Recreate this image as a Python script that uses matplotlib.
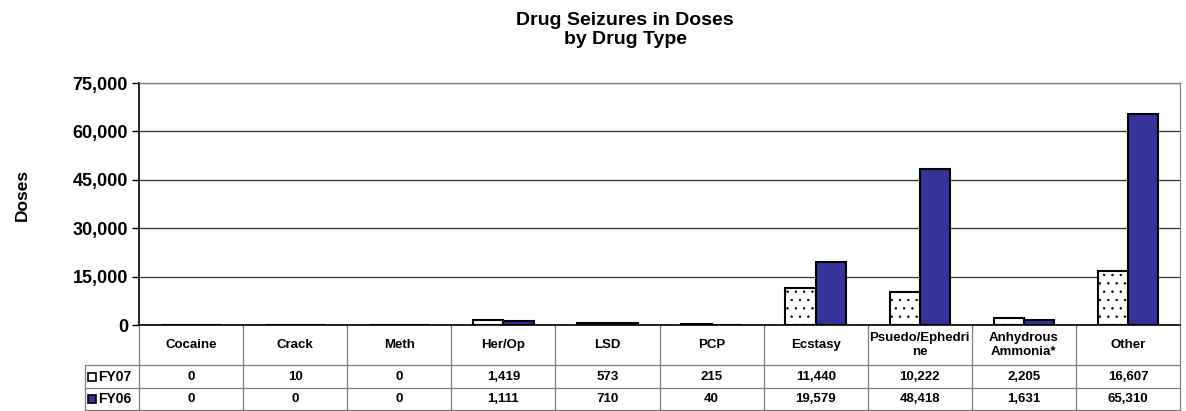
import numpy as np
import matplotlib
matplotlib.use('Agg')
import matplotlib.pyplot as plt
from matplotlib.patches import Rectangle
from matplotlib.transforms import blended_transform_factory
from matplotlib.ticker import FuncFormatter

plt.rcParams['font.family'] = ['Liberation Sans', 'DejaVu Sans']
plt.rcParams['font.weight'] = 'bold'
plt.rcParams['hatch.linewidth'] = 0.5
plt.rcParams['hatch.color'] = '#444444'

# data
categories = ['Cocaine', 'Crack', 'Meth', 'Her/Op', 'LSD', 'PCP', 'Ecstasy',
              'Psuedo/Ephedri\nne', 'Anhydrous\nAmmonia*', 'Other']
fy07 = [0, 10, 0, 1419, 573, 215, 11440, 10222, 2205, 16607]
fy06 = [0, 0, 0, 1111, 710, 40, 19579, 48418, 1631, 65310]
series_names = ['FY07', 'FY06']
yticks = [0, 15000, 30000, 45000, 60000, 75000]

W, H = 1186, 411
fig = plt.figure(figsize=(W / 100, H / 100), dpi=100)
ax = fig.add_axes([139 / W, 1 - 325 / H, (1180 - 139) / W, (325 - 83) / H])

navy = '#333399'
grey = '#7f7f7f'
x = np.arange(len(categories))
bw = 0.29
ax.bar(x - bw / 2, fy07, bw, color='white', edgecolor='black', linewidth=1.5,
       hatch='..', zorder=3)
ax.bar(x + bw / 2, fy06, bw, color=navy, edgecolor='black', linewidth=1.5, zorder=3)

ax.set_xlim(-0.5, len(categories) - 0.5)
ax.set_ylim(0, 75000)
ax.set_yticks(yticks)
ax.yaxis.set_major_formatter(FuncFormatter(lambda v, p: f'{int(v):,}'))
ax.tick_params(axis='y', labelsize=13, length=5, width=1, pad=3)
ax.set_xticks([])
ax.grid(axis='y', color='#333333', linewidth=0.9, zorder=0)
for s in ['top', 'right']:
    ax.spines[s].set_color(grey)
    ax.spines[s].set_linewidth(0.9)
ax.spines['left'].set_linewidth(1.2)
ax.spines['bottom'].set_linewidth(1.2)

fig.text(22 / W, 1 - 195 / H, 'Doses', rotation=90, ha='center', va='center',
         fontsize=12.5, fontweight='bold')
fig.text(625 / W, 1 - 30 / H, 'Drug Seizures in Doses\nby Drug Type', ha='center',
         va='center', fontsize=14, fontweight='bold', linespacing=1.15)

# data table under the axis
tr = blended_transform_factory(ax.transData, fig.transFigure)
fy = lambda px: 1 - px / H
rows = [325, 365, 388, 410]
xl = -1.02
lkw = dict(color=grey, linewidth=0.9, transform=tr, clip_on=False)
for i in range(len(categories) + 1):
    ax.plot([i - 0.5, i - 0.5], [fy(rows[0]), fy(rows[-1])], **lkw)
ax.plot([xl, xl], [fy(rows[1]), fy(rows[-1])], **lkw)
for r in rows[1:]:
    ax.plot([xl, len(categories) - 0.5], [fy(r), fy(r)], **lkw)

for i, c in enumerate(categories):
    ax.text(i, fy((rows[0] + rows[1]) / 2), c, transform=tr, ha='center', va='center',
            fontsize=9.5, fontweight='bold', linespacing=1.3)
    ax.text(i, fy((rows[1] + rows[2]) / 2), f'{fy07[i]:,}', transform=tr,
            ha='center', va='center', fontsize=9.5, fontweight='bold')
    ax.text(i, fy((rows[2] + rows[3]) / 2), f'{fy06[i]:,}', transform=tr,
            ha='center', va='center', fontsize=9.5, fontweight='bold')

for k, (name, fc) in enumerate(zip(series_names, ['white', navy])):
    yc = (rows[k + 1] + rows[k + 2]) / 2
    fig.patches.append(Rectangle((88 / W, fy(yc + 4)), 8 / W, 8 / H, facecolor=fc,
                                 edgecolor='black', linewidth=1.2,
                                 transform=fig.transFigure))
    fig.text(98 / W, fy(yc), name, ha='left', va='center', fontsize=10,
             fontweight='bold')

fig.savefig('out.png', dpi=100)
